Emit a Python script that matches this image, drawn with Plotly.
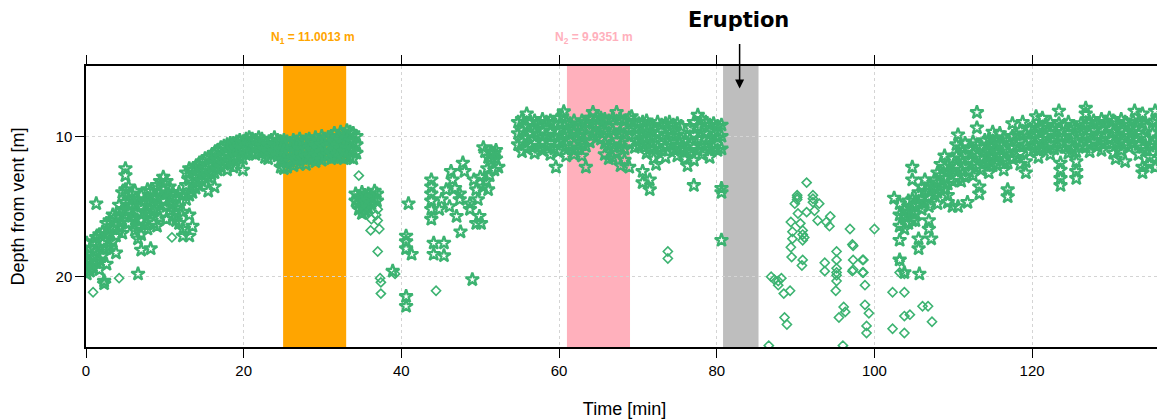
import plotly.graph_objects as go

# ---------------- data ----------------
# each entry: (time [min], [depths from vent [m] observed at that time])
star_seg_a = [
    (0.1, [17.6, 18.4, 19.2, 19.8]), (0.5, [18.0, 18.9, 19.6]), (0.9, [17.5, 18.6, 19.4]),
    (1.3, [14.8, 17.2, 18.2, 19.0]), (1.7, [17.0, 17.9, 18.8, 19.5]), (2.1, [16.8, 17.6, 18.5]),
    (2.3, [20.3, 20.5]), (2.6, [16.2, 17.0, 18.0, 19.1]), (3.0, [16.0, 16.9, 17.8]),
    (3.4, [15.6, 16.6, 17.5]), (3.8, [15.8, 16.4, 17.1, 18.3]), (4.2, [14.9, 15.7, 16.5]),
    (4.6, [14.0, 15.2, 16.0, 16.9]), (5.0, [12.3, 12.8, 13.8, 14.7, 15.6]), (5.4, [13.6, 14.5, 15.3, 16.2]),
    (5.8, [14.1, 14.9, 15.7]), (6.2, [13.9, 14.8, 15.9, 16.7]), (6.6, [14.5, 15.4, 16.4, 17.3, 19.8]),
    (7.0, [14.2, 15.0, 16.0, 17.0, 18.1]), (7.4, [14.6, 15.4, 16.3]), (7.8, [13.8, 14.6, 15.5, 16.6]),
    (8.2, [13.9, 14.7, 15.6, 18.0]), (8.6, [14.4, 15.3, 16.2]), (9.0, [13.5, 14.4, 15.2, 16.4]),
    (9.4, [13.2, 14.0, 14.9, 15.8]), (9.8, [12.9, 13.8, 14.6]), (10.2, [13.2, 14.1, 15.0, 15.9]),
    (10.6, [13.6, 14.4, 15.3]), (11.0, [14.0, 14.8, 15.7]), (11.4, [14.3, 15.1, 16.0]),
    (11.8, [14.0, 15.0, 16.2]), (12.3, [14.2, 15.4, 16.6, 17.1]), (12.7, [12.6, 13.5, 14.5]),
    (13.1, [12.3, 13.1, 14.2, 15.6, 17.1]), (13.5, [12.4, 13.3, 14.0, 16.4]), (13.9, [12.2, 12.9, 13.7]),
    (14.3, [12.0, 12.7, 13.5]), (14.7, [11.8, 12.5, 13.2]), (15.1, [11.6, 12.3, 13.0]),
    (15.5, [11.5, 12.1, 12.9, 13.9]), (15.9, [11.4, 12.0, 12.7]), (16.3, [11.2, 11.9, 12.6, 13.6]),
    (16.7, [11.0, 11.7, 12.4]), (17.1, [10.8, 11.5, 12.2]), (17.5, [10.7, 11.3, 12.0]),
    (17.9, [10.6, 11.2, 11.9, 12.4]), (18.3, [10.5, 11.1, 11.8]), (18.7, [10.5, 11.0, 11.6, 12.2]),
    (19.1, [10.4, 10.9, 11.5]), (19.5, [10.3, 10.8, 11.4]), (19.9, [10.4, 10.9, 11.6, 12.4]),
    (20.3, [10.2, 10.7, 11.3]), (20.7, [10.1, 10.6, 11.1]), (21.1, [10.2, 10.7, 11.2]),
    (21.5, [10.3, 10.8, 11.3]), (21.9, [10.1, 10.6, 11.1]), (22.3, [10.2, 10.7, 11.2]),
    (22.7, [10.5, 11.0, 11.5]), (23.1, [10.6, 11.1, 11.6]), (23.5, [10.3, 10.8, 11.3]),
    (23.9, [10.1, 10.6, 11.1]), (24.3, [10.3, 10.9, 11.4]), (24.7, [10.4, 11.0, 11.7, 12.2]),
    (25.1, [10.3, 11.0, 11.7, 12.3]), (25.5, [10.4, 11.1, 11.8, 12.2]), (25.9, [10.5, 11.2, 11.8]),
    (26.3, [10.3, 11.0, 11.6, 12.1]), (26.7, [10.4, 11.1, 11.7]), (27.1, [10.2, 10.9, 11.6, 12.0]),
    (27.5, [10.4, 11.0, 11.6]), (27.9, [10.3, 10.9, 11.5, 12.0]), (28.3, [10.2, 10.8, 11.4]),
    (28.7, [10.4, 11.0, 11.6]), (29.1, [10.1, 10.7, 11.3, 11.8]), (29.5, [10.3, 10.9, 11.5]),
    (29.9, [10.0, 10.6, 11.2, 11.7]), (30.3, [10.2, 10.8, 11.4]), (30.7, [10.1, 10.7, 11.3]),
    (31.1, [10.0, 10.6, 11.2, 11.6]), (31.5, [9.8, 10.4, 11.0, 11.5]), (31.9, [10.1, 10.7, 11.3]),
    (32.3, [9.7, 10.3, 10.9, 11.5]), (32.7, [9.9, 10.5, 11.1, 11.6]), (33.1, [9.6, 10.2, 10.8, 11.4]),
    (33.5, [9.7, 10.3, 10.9, 11.5]), (33.9, [9.8, 10.4, 11.0, 11.6]), (34.3, [10.0, 10.6, 11.2]),
]

star_seg_b = [
    (34.2, [14.1, 14.6]), (34.6, [14.3, 14.8, 15.2]), (35.0, [14.0, 14.5, 15.0, 15.5]),
    (35.4, [14.2, 14.7, 15.3]), (35.8, [14.1, 14.6, 15.1]), (36.2, [14.3, 14.8]),
    (36.6, [13.9, 14.4]), (36.9, [14.1, 14.6]), (38.9, [19.6]),
    (40.6, [17.1, 17.5, 18.0, 21.4, 22.1]), (40.9, [14.8]), (41.3, [18.4]),
    (43.8, [13.1, 13.6, 14.1, 14.6, 15.2, 15.9]), (44.1, [17.6, 18.4]), (44.8, [15.2]),
    (45.1, [14.5]), (45.4, [17.6, 18.5]), (45.7, [13.8]), (46.1, [15.0]),
    (46.3, [12.5]), (46.5, [13.1]), (46.8, [13.7]), (47.0, [15.7]), (47.4, [14.1, 14.5]),
    (47.5, [16.8]), (47.8, [11.9]), (48.0, [12.5]), (48.7, [14.8, 15.2]), (49.0, [20.2]),
    (49.2, [13.1]), (49.5, [13.8, 16.2]), (49.7, [14.5]), (49.9, [15.7]), (50.0, [12.9]),
    (50.1, [16.2]), (50.4, [10.8, 13.6]), (50.6, [11.1]), (50.8, [13.2]), (50.9, [12.3]),
    (51.0, [11.5, 13.8]), (51.2, [12.8]), (51.4, [11.1, 11.7]), (51.8, [11.2, 12.4]),
    (52.0, [11.0, 11.6]), (52.3, [12.2]),
]

star_seg_c = [
    (54.8, [9.0, 9.8, 10.6]), (55.3, [8.8, 9.6, 10.4, 11.1]), (55.9, [8.4, 9.3, 10.1, 10.9]),
    (56.4, [9.0, 9.8, 10.7]), (56.9, [8.9, 9.7, 10.5, 11.2]), (57.4, [9.1, 9.9, 10.8]),
    (57.9, [8.8, 9.6, 10.4, 11.0]), (58.4, [9.0, 9.9, 10.7]), (58.9, [8.9, 9.7, 10.5, 11.3]),
    (59.4, [9.1, 10.0, 10.9]), (59.6, [12.2]), (59.9, [8.7, 9.6, 10.4, 11.1]),
    (60.4, [8.6, 9.5, 10.3]), (60.6, [8.25]), (60.9, [9.0, 9.8, 10.6, 11.4]),
    (61.4, [9.1, 9.9, 10.8]), (61.9, [8.9, 9.7, 10.6, 11.3]), (62.4, [9.2, 10.0, 10.9]),
    (62.9, [8.9, 9.8, 10.6, 11.4]), (63.4, [9.0, 9.9, 10.7, 12.2]), (63.9, [8.7, 9.5, 10.4]),
    (64.3, [8.3, 9.1, 9.8]), (64.8, [8.6, 9.3, 10.1]), (65.3, [8.7, 9.5, 10.2]),
    (65.8, [8.8, 9.6, 10.5, 11.3]), (66.3, [8.9, 9.8, 10.7, 11.6]), (66.8, [8.7, 9.6, 10.6, 11.5]),
    (67.3, [8.3, 9.3, 10.3, 11.2]), (67.8, [8.8, 9.8, 10.8, 12.1]), (68.3, [8.9, 9.9, 10.9, 11.7]),
    (68.9, [8.7, 9.6, 10.5, 12.2]), (69.2, [8.6, 9.4]), (69.6, [9.0, 9.9, 10.8]),
    (70.1, [9.1, 9.9, 10.7]), (70.6, [9.0, 9.8, 10.6, 12.5, 13.3]), (71.1, [8.9, 9.7, 10.5, 11.2]),
    (71.5, [9.2, 10.0, 10.9, 13.1, 13.8]), (72.0, [9.3, 10.1, 10.9, 11.6]), (72.3, [12.0]),
    (72.5, [9.0, 9.9, 10.8]), (73.0, [9.2, 10.1, 11.0]), (73.5, [9.1, 9.9, 10.7, 11.5]),
    (74.0, [9.0, 9.8, 10.6]), (74.5, [9.2, 10.0, 10.9]), (75.0, [9.1, 9.9, 10.8, 11.4]),
    (75.5, [9.3, 10.2, 11.0]), (76.0, [10.3, 11.0, 11.6]), (76.3, [12.1]),
    (76.6, [9.4, 10.2, 11.1]), (77.1, [9.0, 9.9, 10.8, 11.7, 13.5]), (77.6, [8.5, 9.3, 10.2, 11.0]),
    (78.1, [8.8, 9.7, 10.6, 11.3]), (78.6, [9.0, 9.8, 10.7]), (79.1, [9.2, 10.1, 10.9, 11.5]),
    (79.6, [9.1, 10.0, 10.8]), (80.1, [9.3, 10.1, 11.0]), (80.6, [9.2, 10.0, 10.9, 13.7, 14.0, 17.4]),
]

star_seg_e = [
    (102.5, [14.4]), (103.2, [14.8, 15.6, 16.4, 17.4, 18.8]), (103.8, [15.2, 15.7, 16.6, 19.7]),
    (104.3, [14.6, 15.4, 16.2]), (104.8, [12.2, 13.1, 14.5, 15.3, 16.0]), (105.2, [14.9, 15.5, 16.0]),
    (105.6, [14.0, 14.8, 17.3, 18.0]), (105.7, [19.8]), (106.0, [13.6, 14.4, 15.2]),
    (106.4, [13.1, 13.9, 14.7]), (106.9, [13.5, 14.3, 15.0, 16.0, 16.6]), (107.2, [17.3]),
    (107.6, [13.1, 13.7, 14.2]), (108.0, [12.6, 13.3, 14.0, 14.8]), (108.4, [12.0, 12.8, 13.6]),
    (108.9, [11.4, 12.2, 13.0, 13.8]), (109.3, [12.5, 13.4, 14.2, 14.7]), (109.9, [11.6, 12.4, 13.2, 15.0]),
    (110.4, [10.6, 11.4, 12.2, 13.0]), (110.6, [9.9, 15.0]), (111.0, [10.8, 11.6, 12.4, 13.2]),
    (111.5, [10.5, 11.3, 12.1, 12.9]), (111.8, [14.7]), (112.0, [10.9, 11.7, 12.5]),
    (112.5, [10.4, 11.2, 12.0, 12.8]), (113.0, [8.3, 9.4, 10.6, 11.4, 12.2]), (113.3, [13.6, 14.1]),
    (113.5, [10.8, 11.6, 12.4]), (114.0, [10.3, 11.1, 11.9]), (114.5, [10.2, 11.0, 11.8, 12.6]),
    (115.0, [9.7, 10.5, 11.3, 12.1]), (115.5, [10.4, 11.2, 12.0]), (115.9, [9.8, 10.6, 11.4]),
    (116.4, [10.1, 10.9, 11.7, 12.4]), (116.9, [10.3, 11.1, 11.9, 13.8, 14.3]), (117.5, [9.1, 10.0, 10.8, 11.6]),
    (118.0, [9.9, 10.7, 11.5]), (118.5, [9.6, 10.4, 11.2, 12.0]), (118.8, [9.0]),
    (119.2, [9.8, 10.6, 11.8, 12.6]), (119.7, [9.5, 10.3, 11.1]), (120.2, [9.3, 10.1, 10.9]),
    (120.5, [8.6]), (120.8, [9.4, 10.2, 11.0, 11.5]), (121.3, [8.7, 9.4, 10.2, 10.9]),
    (121.8, [9.2, 10.0, 10.8]), (122.3, [9.0, 9.8, 10.6, 11.3]), (122.8, [9.3, 10.1, 10.9]),
    (123.4, [8.2, 9.1, 10.0, 10.8]), (123.6, [11.9, 12.4, 13.0, 13.5]), (124.1, [9.2, 10.0, 10.8]),
    (124.6, [9.0, 9.8, 10.6, 11.2]), (125.1, [9.3, 10.1, 10.9]), (125.6, [9.4, 10.3, 11.1, 11.8, 12.5, 13.0]),
    (126.2, [9.1, 9.9, 10.7]), (126.8, [8.0, 8.4, 9.2, 10.0, 10.8]), (127.3, [9.0, 9.8, 10.6, 11.1]),
    (127.8, [8.9, 9.6, 10.4]), (128.3, [9.1, 9.9, 10.7]), (128.8, [8.8, 9.5, 10.3, 11.0]),
    (129.3, [9.0, 9.8, 10.5]), (129.8, [8.7, 9.4, 10.2]), (130.3, [8.9, 9.7, 10.5, 11.2]),
    (130.6, [11.6]), (130.8, [9.1, 9.9, 10.6]), (131.3, [8.8, 9.6, 10.4, 11.0]),
    (131.8, [9.0, 9.8, 10.6, 11.8]), (132.3, [9.2, 10.0, 10.8]), (132.8, [8.9, 9.7, 10.5]),
    (133.0, [8.2]), (133.5, [9.0, 9.8, 10.6, 11.3]), (134.0, [8.4, 9.1, 10.0, 10.8, 12.2, 12.6]),
    (134.5, [9.3, 10.2, 11.0]), (134.9, [10.7, 11.5, 12.0]), (135.3, [9.0, 9.8, 10.6]),
    (135.6, [8.2, 8.9, 12.2]), (136.1, [9.3, 10.1, 10.9, 11.5]),
]

diamond_cols = [
    (0.9, [21.1]), (2.3, [20.4]), (4.2, [20.1]), (10.9, [17.2]),
    (34.6, [12.8]), (35.5, [15.5]), (36.1, [16.7]), (36.2, [15.9]), (36.8, [15.6]),
    (37.0, [15.2, 16.0, 18.2]), (37.2, [16.6]), (37.3, [20.1]), (37.4, [20.4, 21.2]),
    (39.2, [19.8]), (44.4, [21.0]), (73.8, [18.2, 18.7]),
    (86.6, [24.9]), (86.9, [20.0]), (87.3, [20.2]), (87.8, [20.3, 20.6]), (88.2, [20.1]),
    (88.5, [21.2]), (88.6, [22.9]), (88.9, [23.4]), (89.3, [21.0]),
    (89.4, [16.1, 17.9]), (89.5, [18.6]), (89.6, [16.8, 17.3]), (89.9, [14.8]),
    (90.2, [14.2, 14.35, 14.5]), (90.3, [15.5]), (90.6, [16.2]), (90.8, [19.2]),
    (90.9, [16.7, 17.0, 17.4, 18.8]), (91.1, [17.2]), (91.4, [13.3, 15.4]),
    (92.2, [14.2, 14.45, 14.7]), (92.4, [15.3]), (92.8, [16.0]), (93.0, [14.8]),
    (93.7, [19.0, 19.6]), (93.9, [16.1]), (94.3, [16.4]), (94.4, [15.7]),
    (95.1, [21.0]), (95.2, [18.2, 18.8, 19.4, 19.7, 19.9, 20.3]), (95.5, [22.9]),
    (96.0, [24.9]), (96.1, [22.15]), (96.3, [22.5]), (96.9, [16.6]),
    (97.2, [17.7, 19.6]), (97.3, [17.8, 18.8, 19.5]), (98.5, [18.8, 19.7]),
    (98.6, [18.8, 19.7]), (98.8, [20.6, 22.0]), (99.0, [23.5, 24.0]), (99.3, [22.6]),
    (100.0, [16.6]), (102.3, [21.1, 23.7]), (103.2, [18.9, 19.7]),
    (103.8, [19.8, 21.1, 22.8, 24.0]), (104.5, [22.7]), (106.1, [22.1]), (106.8, [22.1]),
    (107.3, [23.2]),
]

# highlighted windows [min] and labels
window_n1 = (25.0, 33.0)
window_n2 = (61.0, 69.0)
window_eruption = (80.8, 85.3)
eruption_time = 83.0
label_n1 = "<b>N<sub>1</sub> = 11.0013 m</b>"
label_n2 = "<b>N<sub>2</sub> = 9.9351 m</b>"
x_ticks = [0, 20, 40, 60, 80, 100, 120]
y_ticks = [10, 20]


def expand(cols):
    xs, ys = [], []
    for t, depths in cols:
        for d in depths:
            xs.append(t)
            ys.append(d)
    return xs, ys


GREEN = "#3CB371"
star_x, star_y = expand(star_seg_a + star_seg_b + star_seg_c + star_seg_e)
dia_x, dia_y = expand(diamond_cols)

fig = go.Figure()
fig.add_trace(go.Scatter(
    x=star_x, y=star_y, mode="markers", showlegend=False,
    marker=dict(symbol="star-open", size=10, color=GREEN, line=dict(width=2.3, color=GREEN)),
))
fig.add_trace(go.Scatter(
    x=dia_x, y=dia_y, mode="markers", showlegend=False,
    marker=dict(symbol="diamond-open", size=7, color=GREEN, line=dict(width=1.6, color=GREEN)),
))

for (x0, x1), col in [(window_n1, "#FFA500"), (window_n2, "#FFB0BC"), (window_eruption, "#BEBEBE")]:
    fig.add_shape(type="rect", xref="x", yref="paper", x0=x0, x1=x1, y0=0, y1=1,
                  fillcolor=col, line=dict(width=0), layer="between")

fig.add_annotation(x=sum(window_n1) / 2 - 0.2, y=1.10, xref="x", yref="paper", text=label_n1,
                   showarrow=False, font=dict(family="Liberation Sans", size=12, color="#FFA500"),
                   xanchor="center", yanchor="middle")
fig.add_annotation(x=sum(window_n2) / 2 - 0.6, y=1.10, xref="x", yref="paper", text=label_n2,
                   showarrow=False, font=dict(family="Liberation Sans", size=12, color="#FFB0BC"),
                   xanchor="center", yanchor="middle")
fig.add_annotation(x=eruption_time - 0.3, y=1.165, xref="x", yref="paper", text="<b>Eruption</b>",
                   showarrow=False, font=dict(family="DejaVu Sans", size=21, color="black"),
                   xanchor="center", yanchor="middle")
fig.add_annotation(x=eruption_time - 0.1, y=6.6, xref="x", yref="y", text="",
                   showarrow=True, arrowhead=2, arrowsize=1.2, arrowwidth=1.5, arrowcolor="black",
                   ax=0, ay=-46)

axis_common = dict(
    showline=True, linecolor="black", linewidth=1.5, mirror="allticks",
    ticks="outside", ticklen=9, tickwidth=1, tickcolor="black",
    showgrid=True, gridcolor="#d4d4d4", griddash="dot", gridwidth=1, zeroline=False,
    tickfont=dict(family="Liberation Sans", size=15, color="black"),
    automargin=False,
)
fig.update_xaxes(range=[0, 136.6], tickvals=x_ticks,
                 title=dict(text="Time [min]", font=dict(family="Liberation Sans", size=18, color="black"),
                            standoff=25),
                 **axis_common)
fig.update_yaxes(range=[25, 5], tickvals=y_ticks,
                 title=dict(text="Depth from vent [m]", font=dict(family="Liberation Sans", size=18, color="black"),
                            standoff=26),
                 **axis_common)

# the page body adds an 8 px offset, so the figure is 8 px smaller and shifted margins
fig.update_layout(
    width=1157, height=412,
    margin=dict(l=78, r=2, t=58, b=73),
    plot_bgcolor="white", paper_bgcolor="white",
    showlegend=False,
)

fig.write_html("out.html")
